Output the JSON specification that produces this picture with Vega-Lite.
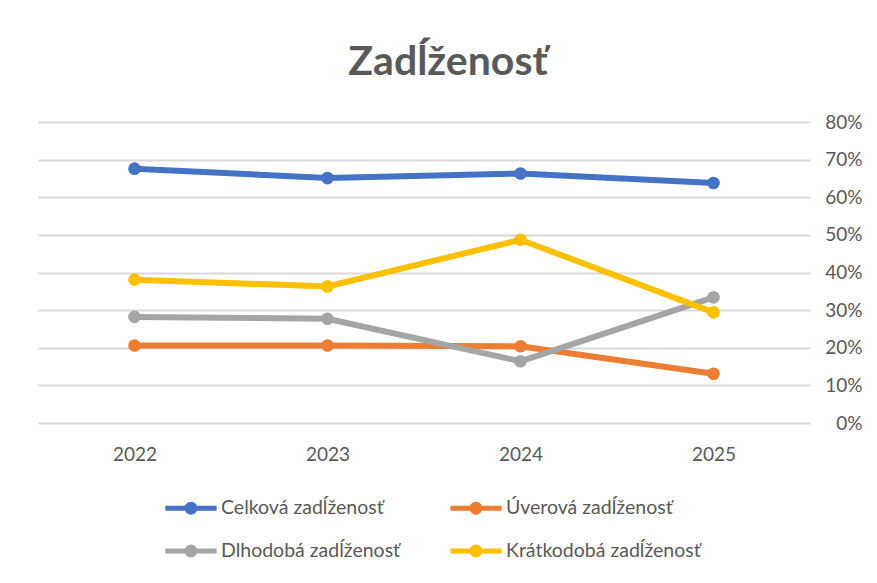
{
  "$schema": "https://vega.github.io/schema/vega-lite/v6.json",
  "autosize": "none",
  "width": 772,
  "height": 301,
  "padding": {"left": 38, "top": 122, "right": 67, "bottom": 160},
  "background": "white",
  "title": {
    "text": "Zadĺženosť",
    "anchor": "middle",
    "dx": 24,
    "offset": 29,
    "font": "Lato",
    "fontSize": 41,
    "fontWeight": "bold",
    "color": "#595959"
  },
  "data": {
    "values": [
      {"year": "2022", "series": "Celková zadĺženosť", "value": 0.676},
      {"year": "2023", "series": "Celková zadĺženosť", "value": 0.651},
      {"year": "2024", "series": "Celková zadĺženosť", "value": 0.663},
      {"year": "2025", "series": "Celková zadĺženosť", "value": 0.638},
      {"year": "2022", "series": "Úverová zadĺženosť", "value": 0.206},
      {"year": "2023", "series": "Úverová zadĺženosť", "value": 0.206},
      {"year": "2024", "series": "Úverová zadĺženosť", "value": 0.204},
      {"year": "2025", "series": "Úverová zadĺženosť", "value": 0.131},
      {"year": "2022", "series": "Dlhodobá zadĺženosť", "value": 0.282},
      {"year": "2023", "series": "Dlhodobá zadĺženosť", "value": 0.277},
      {"year": "2024", "series": "Dlhodobá zadĺženosť", "value": 0.164},
      {"year": "2025", "series": "Dlhodobá zadĺženosť", "value": 0.334},
      {"year": "2022", "series": "Krátkodobá zadĺženosť", "value": 0.381},
      {"year": "2023", "series": "Krátkodobá zadĺženosť", "value": 0.363},
      {"year": "2024", "series": "Krátkodobá zadĺženosť", "value": 0.487},
      {"year": "2025", "series": "Krátkodobá zadĺženosť", "value": 0.294}
    ]
  },
  "encoding": {
    "x": {
      "field": "year",
      "type": "ordinal",
      "scale": {"type": "point", "padding": 0.5},
      "axis": {
        "title": null,
        "labelAngle": 0,
        "domain": false,
        "ticks": false,
        "labelPadding": 22,
        "labelFont": "Lato",
        "labelFontSize": 19,
        "labelColor": "#595959"
      }
    },
    "y": {
      "field": "value",
      "type": "quantitative",
      "scale": {"domain": [0, 0.8], "nice": false},
      "axis": {
        "orient": "right",
        "title": null,
        "format": ".0%",
        "values": [0, 0.1, 0.2, 0.3, 0.4, 0.5, 0.6, 0.7, 0.8],
        "domain": false,
        "ticks": false,
        "grid": true,
        "gridColor": "#D9D9D9",
        "gridWidth": 2,
        "labelAlign": "right",
        "labelPadding": 52,
        "labelFont": "Lato",
        "labelFontSize": 19,
        "labelColor": "#595959"
      }
    },
    "color": {
      "field": "series",
      "type": "nominal",
      "scale": {
        "domain": ["Celková zadĺženosť", "Úverová zadĺženosť", "Dlhodobá zadĺženosť", "Krátkodobá zadĺženosť"],
        "range": ["#4472C4", "#ED7D31", "#A5A5A5", "#FFC000"]
      },
      "legend": {
        "orient": "none",
        "legendX": 137,
        "legendY": 370,
        "direction": "horizontal",
        "columns": 2,
        "title": null,
        "symbolType": "M-1.6,-0.16H1.6V0.16H-1.6Z M0.4,0 A0.4,0.4 0 1,1 -0.4,0 A0.4,0.4 0 1,1 0.4,0 Z",
        "symbolSize": 1024,
        "symbolStrokeWidth": 0,
        "symbolOpacity": 1,
        "labelOffset": 14,
        "labelLimit": 0,
        "labelFont": "Lato",
        "labelFontSize": 19.5,
        "labelColor": "#595959",
        "rowPadding": 17,
        "columnPadding": 49
      }
    }
  },
  "layer": [
    {"mark": {"type": "line", "strokeWidth": 6}},
    {"mark": {"type": "point", "filled": true, "size": 160, "opacity": 1}}
  ],
  "config": {
    "view": {"stroke": null},
    "legend": {"symbolFillColor": null}
  }
}
